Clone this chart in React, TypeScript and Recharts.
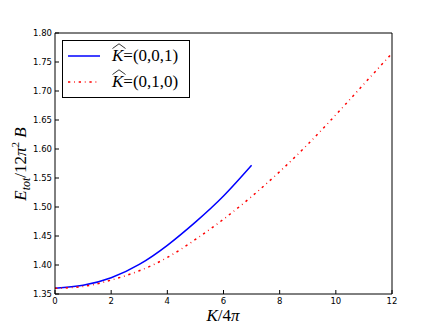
import { LineChart, Line, XAxis, YAxis, Legend } from 'recharts'

// E_tot / 12π² B against K / 4π, two directions of K-hat

// ── Data ──────────────────────────────────────────────────
const kBlue = [0, 1, 2, 3, 4, 5, 6, 7]
const eBlue = [1.36, 1.365, 1.378, 1.401, 1.434, 1.474, 1.519, 1.572]

const kRed = [0, 1, 2, 3, 4, 5, 6, 7, 8, 9, 10, 11, 12]
const eRed = [1.36, 1.363, 1.374, 1.39, 1.413, 1.444, 1.479, 1.518, 1.561, 1.608, 1.659, 1.712, 1.765]

const xTicks = [0, 2, 4, 6, 8, 10, 12]
const yTicks = [1.35, 1.4, 1.45, 1.5, 1.55, 1.6, 1.65, 1.7, 1.75, 1.8]

const blueData = kBlue.map((k, i) => ({ k, e: eBlue[i] }))
const redData = kRed.map((k, i) => ({ k, e: eRed[i] }))

const BLUE = '#0000ff'
const RED = '#ff0000'
const RED_DASH = '2.3 3.8 0.8 3.8'
const SERIF = '"Liberation Serif", "DejaVu Serif", serif'
const tickStyle = { fontSize: 8.5, fill: '#000', fontFamily: '"DejaVu Sans", sans-serif' }

// ── Legend ────────────────────────────────────────────────
function HatK() {
  return (
    <span style={{ position: 'relative', display: 'inline-block', fontStyle: 'italic' }}>
      <svg width={14} height={6} style={{ position: 'absolute', left: 0, top: -3 }}>
        <polyline points="0.5,5.5 7,0.8 13.5,5.5" fill="none" stroke="#000" strokeWidth={0.8} />
      </svg>
      K
    </span>
  )
}

function LegendBox() {
  const row = (color: string, dash: string | undefined, label: string, top: number) => (
    <div style={{ position: 'absolute', left: 0, top, height: 20, display: 'flex', alignItems: 'center' }}>
      <svg width={44} height={4} style={{ marginLeft: 5 }}>
        <line x1={0} y1={2} x2={32} y2={2} stroke={color} strokeWidth={1.5} strokeDasharray={dash} />
      </svg>
      <span style={{ whiteSpace: 'nowrap' }}>
        <HatK />={label}
      </span>
    </div>
  )
  return (
    <div
      style={{
        position: 'relative',
        width: 126,
        height: 56,
        border: '1px solid #000',
        background: '#fff',
        fontFamily: SERIF,
        fontSize: 17,
        lineHeight: '20px',
        color: '#000',
      }}
    >
      {row(BLUE, undefined, '(0,0,1)', 5)}
      {row(RED, RED_DASH, '(0,1,0)', 31)}
    </div>
  )
}

// ── Chart ─────────────────────────────────────────────────
export default function App() {
  return (
    <div style={{ position: 'absolute', left: 0, top: 0, width: 436, height: 327, background: '#fff' }}>
      <LineChart width={436} height={327} margin={{ top: 0, right: 0, bottom: 0, left: 0 }}>
        <XAxis
          type="number"
          dataKey="k"
          domain={[0, 12]}
          ticks={xTicks}
          allowDataOverflow
          height={33}
          tickSize={-4}
          tickMargin={8}
          stroke="#000"
          tick={tickStyle}
        />
        <XAxis
          xAxisId="top"
          orientation="top"
          type="number"
          domain={[0, 12]}
          ticks={xTicks}
          allowDataOverflow
          height={33}
          tickSize={-4}
          tick={false}
          stroke="#000"
        />
        <YAxis
          type="number"
          domain={[1.35, 1.8]}
          ticks={yTicks}
          allowDataOverflow
          width={55}
          tickSize={-4}
          tickMargin={7}
          stroke="#000"
          tick={tickStyle}
          tickFormatter={(v: number) => v.toFixed(2)}
        />
        <YAxis
          yAxisId="right"
          orientation="right"
          type="number"
          domain={[1.35, 1.8]}
          ticks={yTicks}
          allowDataOverflow
          width={44}
          tickSize={-4}
          tick={false}
          stroke="#000"
        />
        <Line
          data={blueData}
          dataKey="e"
          type="natural"
          stroke={BLUE}
          strokeWidth={1.5}
          dot={false}
          isAnimationActive={false}
        />
        <Line
          data={redData}
          dataKey="e"
          type="natural"
          stroke={RED}
          strokeWidth={1.5}
          strokeDasharray={RED_DASH}
          dot={false}
          isAnimationActive={false}
        />
        <Legend
          layout="vertical"
          align="center"
          verticalAlign="middle"
          wrapperStyle={{ left: 62, top: 40, width: 128, height: 58 }}
          content={() => <LegendBox />}
        />
        <text x={223} y={321} textAnchor="middle" fontFamily={SERIF} fontSize={17}>
          <tspan fontStyle="italic">K</tspan>
          <tspan>/4</tspan>
          <tspan fontStyle="italic">π</tspan>
        </text>
        <text transform="rotate(-90)" x={-164} y={26} textAnchor="middle" fontFamily={SERIF} fontSize={17}>
          <tspan fontStyle="italic">E</tspan>
          <tspan fontStyle="italic" fontSize={12} dy={4}>tot</tspan>
          <tspan dy={-4}>/12</tspan>
          <tspan fontStyle="italic">π</tspan>
          <tspan fontSize={11} dy={-7}>2</tspan>
          <tspan fontStyle="italic" dy={7}> B</tspan>
        </text>
      </LineChart>
    </div>
  )
}
